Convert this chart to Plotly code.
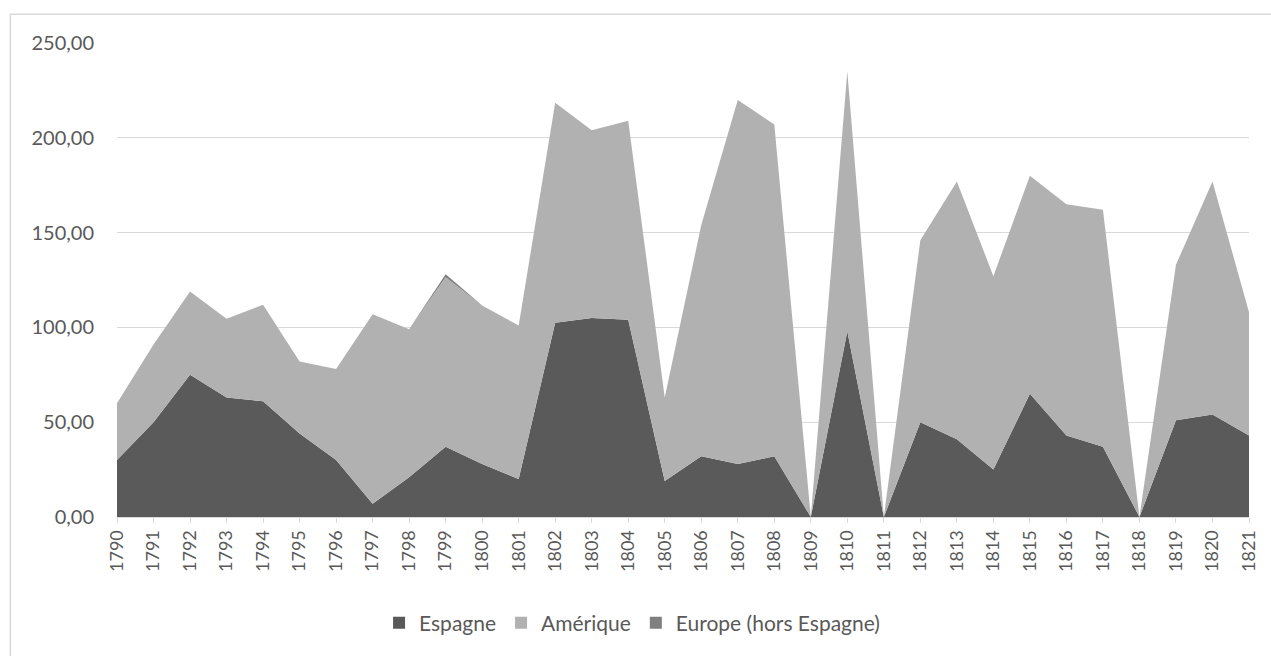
import plotly.graph_objects as go

years = list(range(1790, 1822))
espagne = [30, 50, 75, 63, 61, 44, 30, 7, 21, 37, 28, 20, 102.5, 105, 104, 19, 32, 28, 32, 0,
           98, 0, 50, 41, 25, 65, 43, 37, 0, 51, 54, 43]
total = [60, 91, 119, 104.5, 112, 82, 78, 107, 99, 128, 111.5, 101, 218.5, 204, 209, 63, 154, 220, 207, 0,
         235, 0, 146, 177, 127, 180, 165, 162, 0, 133, 177, 108]
europe = [0, 0, 0, 0, 0, 0, 0, 0, 0, 1.5, 0, 0, 0, 0, 0, 0, 0, 0, 0, 0,
          0, 0, 0, 0, 0, 0, 0, 0, 0, 0, 0, 0]
amerique = [round(t - e - u, 2) for t, e, u in zip(total, espagne, europe)]
tick_labels = [str(y) for y in years]

series_names = ["Espagne", "Amérique", "Europe (hors Espagne)"]
colors = ["#5a5a5a", "#b1b1b1", "#808080"]

fig = go.Figure()
for name, vals, col in zip(series_names, [espagne, amerique, europe], colors):
    fig.add_trace(go.Scatter(
        x=years, y=vals, name=name, mode="lines", stackgroup="one",
        line=dict(width=0, color=col), fillcolor=col, showlegend=False,
    ))
# legend entries with square swatches
for name, col in zip(series_names, colors):
    fig.add_trace(go.Bar(x=[None], y=[None], name=name, marker=dict(color=col, line=dict(width=0)),
                         showlegend=True, hoverinfo="skip"))

font_family = "Lato, 'Open Sans', sans-serif"
fig.update_layout(
    width=1271, height=656,
    margin=dict(l=117, r=14, t=43, b=131),
    paper_bgcolor="white", plot_bgcolor="white",
    separators=", ",
    font=dict(family=font_family, color="#595959", size=18),
    showlegend=True,
    legend=dict(orientation="h", x=0.455, xanchor="center", y=-0.224, yanchor="middle",
                font=dict(size=21, color="#595959"), itemwidth=30, traceorder="normal"),
    xaxis=dict(
        range=[1790, 1821], tickmode="array", tickvals=years, ticktext=tick_labels,
        tickangle=-90, showgrid=False, showline=True, linecolor="#d9d9d9", linewidth=1,
        ticks="outside", ticklen=5, tickcolor="#d9d9d9", tickfont=dict(size=18, color="#595959"),
        zeroline=False,
    ),
    yaxis=dict(
        range=[0, 250], tickmode="linear", tick0=0, dtick=50, tickformat=".2f",
        showgrid=True, gridcolor="#d9d9d9", gridwidth=1, zeroline=False, showline=False,
        ticks="", ticklabelstandoff=22, tickfont=dict(size=20, color="#595959"),
    ),
    shapes=[dict(type="rect", xref="paper", yref="paper",
                 x0=-0.0942, x1=1.03, y0=-0.35, y1=1.0607,
                 line=dict(color="#d9d9d9", width=1.5), fillcolor="rgba(0,0,0,0)", layer="below")],
)

post = ("document.body.style.margin='0';document.body.style.padding='0';"
        "document.documentElement.style.overflow='hidden';document.body.style.overflow='hidden';")
fig.write_html("out.html", post_script=post, config={"displayModeBar": False})
